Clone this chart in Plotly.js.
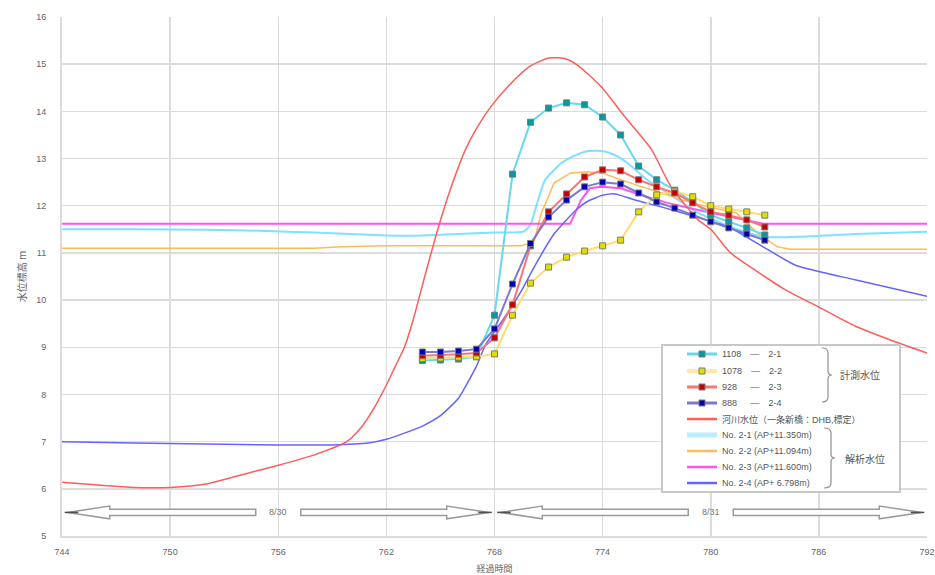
<!DOCTYPE html>
<html><head><meta charset="utf-8">
<script src="https://cdn.plot.ly/plotly-3.0.1.min.js"></script>
<style>body{margin:0;background:#fff}</style>
</head><body><div id="chart" style="width:935px;height:575px"></div>
<script>
// ---------- data ----------
const measHours = [764,765,766,767,768,769,770,771,772,773,774,775,776,777,778,779,780,781,782,783];
const meas21 = [8.72,8.73,8.75,8.80,9.68,12.67,13.77,14.07,14.18,14.14,13.88,13.50,12.84,12.55,12.33,12.08,11.80,11.66,11.53,11.38];
const meas22 = [8.76,8.77,8.79,8.80,8.86,9.68,10.36,10.70,10.91,11.04,11.15,11.27,11.87,12.23,12.31,12.19,12.00,11.93,11.87,11.80];
const meas23 = [8.82,8.83,8.85,8.88,9.20,9.90,11.15,11.87,12.25,12.61,12.76,12.74,12.55,12.40,12.27,12.06,11.87,11.80,11.70,11.55];
const meas24 = [8.90,8.90,8.92,8.96,9.39,10.34,11.20,11.76,12.12,12.40,12.50,12.46,12.27,12.08,11.95,11.80,11.66,11.53,11.40,11.27];

const riverX = [744,746,748,750,752,754,756,758,759.8,760.6,761.3,762.0,762.5,763.0,763.5,764.2,764.9,765.6,766.4,767.1,767.8,768.8,769.9,771,771.9,772.6,773.9,775.2,776.7,777.8,779.3,780,781.1,782.6,784,786,788,790,792];
const riverY = [6.14,6.08,6.03,6.03,6.10,6.30,6.50,6.72,7.00,7.30,7.70,8.20,8.60,9.00,9.60,10.60,11.56,12.40,13.20,13.70,14.10,14.55,14.94,15.13,15.12,14.98,14.53,13.90,13.20,12.40,11.70,11.50,11.00,10.60,10.25,9.85,9.45,9.15,8.88];

const ana21X = [744,748,752,755,758,760,762,764,766,768,769.6,770.0,770.3,770.8,771.7,772.5,773.2,774,774.7,775.4,776.5,777.6,779.3,781.1,782.9,784.7,788,792];
const ana21Y = [11.50,11.50,11.49,11.47,11.43,11.40,11.37,11.37,11.40,11.43,11.45,11.60,11.97,12.54,12.90,13.07,13.16,13.16,13.07,12.90,12.54,12.27,11.85,11.55,11.34,11.34,11.40,11.45];

const ana22X = [744,750,758,759.5,762,766,769.5,770.2,770.6,771,771.3,772.2,773.1,774,775,776.2,777.3,778.4,779.9,781.4,782.6,783.7,784.4,792];
const ana22Y = [11.10,11.10,11.10,11.13,11.15,11.15,11.15,11.25,11.85,12.20,12.48,12.69,12.72,12.69,12.55,12.40,12.27,12.12,11.97,11.85,11.42,11.13,11.08,11.08];

const ana23X = [744,772.2,772.8,773.3,773.9,775,776.1,777.6,779.3,781.1,782.9,792];
const ana23Y = [11.62,11.62,12.12,12.37,12.40,12.37,12.23,12.06,11.91,11.76,11.62,11.62];

const ana24X = [744,748,752,756,759,761,762,763,764,765,766,767,767.5,768.5,769.5,770.2,771.3,772.5,773.2,774,774.7,775.8,777.3,779.2,781,782.9,784.7,788,792];
const ana24Y = [7.00,6.97,6.95,6.93,6.93,6.97,7.05,7.18,7.33,7.55,7.92,8.60,9.05,9.60,10.20,10.70,11.40,11.90,12.10,12.22,12.25,12.12,11.97,11.76,11.55,11.13,10.74,10.43,10.08];

const measNames = ['1108\u3000—\u30002-1','1078\u3000—\u30002-2','928\u3000\u2002—\u30002-3','888\u3000\u2002—\u30002-4'];
const riverName = '河川水位（一条新橋：DHB,標定）';
const anaNames = ['No. 2-1 (AP+11.350m)','No. 2-2 (AP+11.094m)','No. 2-3 (AP+11.600m)','No. 2-4 (AP+ 6.798m)'];
const groupLabels = ['計測水位','解析水位'];

const dayLabels = ['8/30','8/31'];
const dayStart = [744,768];
const dayEnd = [768,792];
const dayBandLevel = 5.5;

const xTickVals = [744,750,756,762,768,774,780,786,792];
const yTickVals = [5,6,7,8,9,10,11,12,13,14,15,16];

// ---------- styles ----------
const measLine = ['#66d9ee','#ffdc6e','#ff7373','#7a7ac8'];
const measFill = ['#009aa0','#e0e000','#c80000','#0000b0'];
const anaColor = ['#7fe0ff','#ffbb55','#ff55ee','#6464ff'];
const anaWidth = [2,1.5,2,1.5];
const anaShape = ['spline','linear','linear','spline'];
const riverColor = '#ff5c5c';

const traces = [];
for (let i=0;i<4;i++){
  const xs=[ana21X,ana22X,ana23X,ana24X][i], ys=[ana21Y,ana22Y,ana23Y,ana24Y][i];
  traces.push({x:xs,y:ys,type:'scatter',mode:'lines',name:anaNames[i],
    line:{color:anaColor[i],width:anaWidth[i],shape:anaShape[i],smoothing:0.5},showlegend:false,hoverinfo:'skip'});
}
traces.push({x:riverX,y:riverY,type:'scatter',mode:'lines',name:riverName,
  line:{color:riverColor,width:1.5,shape:'spline',smoothing:0.6},showlegend:false});
const measSets=[meas21,meas22,meas23,meas24];
for (let i=0;i<4;i++){
  traces.push({x:measHours,y:measSets[i],type:'scatter',mode:'lines+markers',name:measNames[i],
    line:{color:measLine[i],width:2},
    marker:{symbol:'square',size:6,color:measFill[i],line:{color:'#7a7a7a',width:1}},showlegend:false});
}

// ---------- pixel helpers for legend ----------
const P={l:62,t:17,w:865,h:519};
const PX=px=>(px-P.l)/P.w, PY=py=>(P.t+P.h-py)/P.h;

const shapes=[];
const annotations=[];

// day arrows
const sh=0.065, hh=0.135, tip=0.3, hl=2.65, gap=1.25;
for (let i=0;i<dayLabels.length;i++){
  const s=dayStart[i], e=dayEnd[i], m=(s+e)/2, yc=dayBandLevel;
  const left=`M ${s+tip},${yc} L ${s+hl},${yc+hh} L ${s+hl},${yc+sh} L ${m-gap},${yc+sh} L ${m-gap},${yc-sh} L ${s+hl},${yc-sh} L ${s+hl},${yc-hh} Z`;
  const right=`M ${e-tip},${yc} L ${e-hl},${yc+hh} L ${e-hl},${yc+sh} L ${m+gap},${yc+sh} L ${m+gap},${yc-sh} L ${e-hl},${yc-sh} L ${e-hl},${yc-hh} Z`;
  [left,right].forEach(p=>shapes.push({type:'path',xref:'x',yref:'y',path:p,fillcolor:'#ffffff',line:{color:'#9a9a9a',width:1.5}}));
  shapes.push({type:'line',xref:'x',yref:'y',x0:s+0.15,x1:s+0.9,y0:yc,y1:yc,line:{color:'#505050',width:1.5}});
  shapes.push({type:'line',xref:'x',yref:'y',x0:e-0.9,x1:e-0.15,y0:yc,y1:yc,line:{color:'#505050',width:1.5}});
  annotations.push({x:m,y:yc,xref:'x',yref:'y',text:dayLabels[i],showarrow:false,
    font:{family:'Liberation Sans',size:9,color:'#777'}});
}

// custom legend box
shapes.push({type:'rect',xref:'paper',yref:'paper',x0:PX(662),x1:PX(900),y0:PY(492),y1:PY(345),
  fillcolor:'#ffffff',line:{color:'#c8c8c8',width:2}});
const rowY=[354,371,387,403,419,435,451,467,483];
const sampleColors=[measLine[0],'#ffe9a8',measLine[2],measLine[3],riverColor,'#b8efff',anaColor[1],anaColor[2],anaColor[3]];
const sampleWidths=[3,4,3,3,2.5,5,2.5,2.5,2.5];
const rowText=[...measNames,riverName,...anaNames];
for (let r=0;r<9;r++){
  shapes.push({type:'line',xref:'paper',yref:'paper',x0:PX(687),x1:PX(717),y0:PY(rowY[r]),y1:PY(rowY[r]),
    line:{color:sampleColors[r],width:sampleWidths[r]}});
  if (r<4){
    shapes.push({type:'rect',xref:'paper',yref:'paper',x0:PX(699),x1:PX(705),y0:PY(rowY[r]+3),y1:PY(rowY[r]-3),
      fillcolor:measFill[r],line:{color:'#7a7a7a',width:1}});
  }
  annotations.push({x:PX(720),y:PY(rowY[r]),xref:'paper',yref:'paper',xanchor:'left',yanchor:'middle',
    text:rowText[r],showarrow:false,font:{family:'Liberation Sans, Noto Sans CJK JP',size:9,color:'#555'}});
}
// brackets
function bracket(xl,xr,yt,yb){
  const ym=(yt+yb)/2;
  const pts=[['M',xl,yt],['Q',xr,yt,xr,yt+5],['L',xr,ym-4],['Q',xr,ym,xr+4,ym],['Q',xr,ym,xr,ym+4],['L',xr,yb-5],['Q',xr,yb,xl,yb]];
  return pts.map(c=>{let s=c[0];for(let k=1;k<c.length;k+=2){s+=' '+PX(c[k])+','+PY(c[k+1]);}return s;}).join(' ');
}
shapes.push({type:'path',xref:'paper',yref:'paper',path:bracket(822,828,348,402),line:{color:'#909090',width:1.2}});
shapes.push({type:'path',xref:'paper',yref:'paper',path:bracket(824,831,428,488),line:{color:'#909090',width:1.2}});
annotations.push({x:PX(838),y:PY(374),xref:'paper',yref:'paper',xanchor:'left',yanchor:'middle',text:groupLabels[0],
  showarrow:false,font:{family:'Noto Sans CJK JP',size:10,color:'#555'}});
annotations.push({x:PX(843),y:PY(458),xref:'paper',yref:'paper',xanchor:'left',yanchor:'middle',text:groupLabels[1],
  showarrow:false,font:{family:'Noto Sans CJK JP',size:10,color:'#555'}});

const axisFont={family:'Liberation Sans, Noto Sans CJK JP',size:9,color:'#666'};
const layout={
  width:935,height:575,
  margin:{l:62,r:8,t:17,b:39},
  paper_bgcolor:'#ffffff',plot_bgcolor:'#ffffff',
  showlegend:false,
  xaxis:{range:[744,792],tickvals:xTickVals,ticktext:xTickVals.map(String),
    showgrid:true,gridcolor:'#dcdcdc',gridwidth:1.5,zeroline:false,
    showline:true,linecolor:'#dcdcdc',linewidth:2,ticks:'',tickfont:axisFont,
    ticklabelstandoff:6,ticklabeloverflow:'allow',automargin:false,
    title:{text:'経過時間',font:{family:'Noto Sans CJK JP',size:9,color:'#666'},standoff:14}},
  yaxis:{range:[5,16],tickvals:yTickVals,ticktext:yTickVals.map(String),
    showgrid:true,gridcolor:'#dcdcdc',gridwidth:1.5,zeroline:false,
    showline:true,linecolor:'#dcdcdc',linewidth:2,ticks:'',tickfont:axisFont,ticklabelstandoff:12,
    title:{text:'水位標高 m',font:{family:'Noto Sans CJK JP',size:10,color:'#666'},standoff:8}},
  shapes:shapes,annotations:annotations
};
Plotly.newPlot('chart',traces,layout,{displayModeBar:false,staticPlot:true});
</script></body></html>
